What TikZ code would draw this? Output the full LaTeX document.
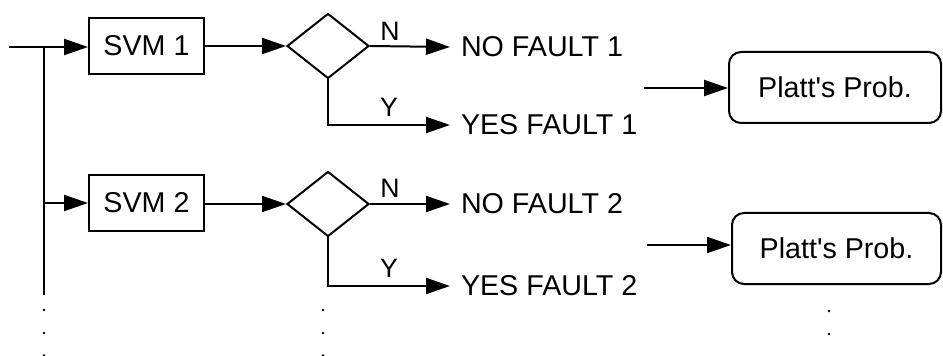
\documentclass[tikz,border=0pt]{standalone}
\usepackage{fontspec}
\setmainfont{Liberation Sans}[Ligatures=TeXOff]
\usetikzlibrary{shapes.geometric,arrows.meta}
\begin{document}
\begin{tikzpicture}[x=0.75pt,y=-0.75pt,
  line width=1.5pt,
  arr/.style={-{Triangle[length=18pt,width=12pt]}},
  svmbox/.style={draw,rectangle,minimum width=86.25pt,minimum height=42pt,inner sep=0pt,font=\fontsize{21.5}{25}\selectfont},
  decis/.style={draw,diamond,minimum width=61.5pt,minimum height=48.75pt,inner sep=0pt},
  outtxt/.style={anchor=west,inner xsep=7.5pt,inner ysep=0pt,font=\fontsize{21.5}{25}\selectfont},
  lbl/.style={inner sep=0pt,font=\fontsize{20}{24}\selectfont},
  plattbox/.style={draw,rectangle,rounded corners=9pt,minimum height=53.25pt,inner sep=0pt,font=\fontsize{21.5}{25}\selectfont},
  dotmark/.style={fill=black}
]
\useasboundingbox (0,0) rectangle (943,356);

% row 1
\coordinate (in) at (9,47);
\coordinate (j1) at (44,47);
\coordinate (bot) at (44,295);
\node[svmbox] (s1) at (146.5,46) {SVM 1};
\node[decis] (d1) at (328,46) {};
\node[outtxt] (n1) at (450,47) {NO FAULT 1};
\node[outtxt] (y1) at (450,125) {YES FAULT 1};
\node[lbl] (ln1) at (390,31) {N};
\node[lbl] (ly1) at (389,107) {Y};
\coordinate (pa1) at (644,88);
\node[plattbox,minimum width=159pt] (p1) at (835,87.5) {Platt's Prob.};

% row 2
\coordinate (j2) at (44,203);
\node[svmbox] (s2) at (146.5,203) {SVM 2};
\node[decis] (d2) at (328,204) {};
\node[outtxt] (n2) at (450,204) {NO FAULT 2};
\node[outtxt] (y2) at (450,286) {YES FAULT 2};
\node[lbl] (ln2) at (390,188) {N};
\node[lbl] (ly2) at (389,268) {Y};
\coordinate (pa2) at (647,245);
\node[plattbox,minimum width=156.75pt] (p2) at (836.5,248.5) {Platt's Prob.};

% connectors
\draw[arr] (in) -- (in -| s1.west);
\draw (j1) -- (bot);
\draw[arr] (j2) -- (s2.west);
\draw[arr] (s1.east |- d1.west) -- (d1.west);
\draw[arr] (s2.east |- d2.west) -- (d2.west);
\draw[arr] (d1.east) -- (n1.west);
\draw[arr] (d2.east) -- (n2.west);
\draw[arr] (d1.south) |- (y1.west);
\draw[arr] (d2.south) |- (y2.west);
\draw[arr] (pa1) -- (pa1 -| p1.west);
\draw[arr] (pa2) -- (pa2 -| p2.west);

% continuation dots
\foreach \yy in {310,333,355.5} {
  \fill[dotmark] (44,\yy) circle (1pt);
  \fill[dotmark] (323,\yy) circle (1pt);
}
\foreach \yy in {311,334} {
  \fill[dotmark] (829,\yy) circle (1pt);
}
\end{tikzpicture}
\end{document}
